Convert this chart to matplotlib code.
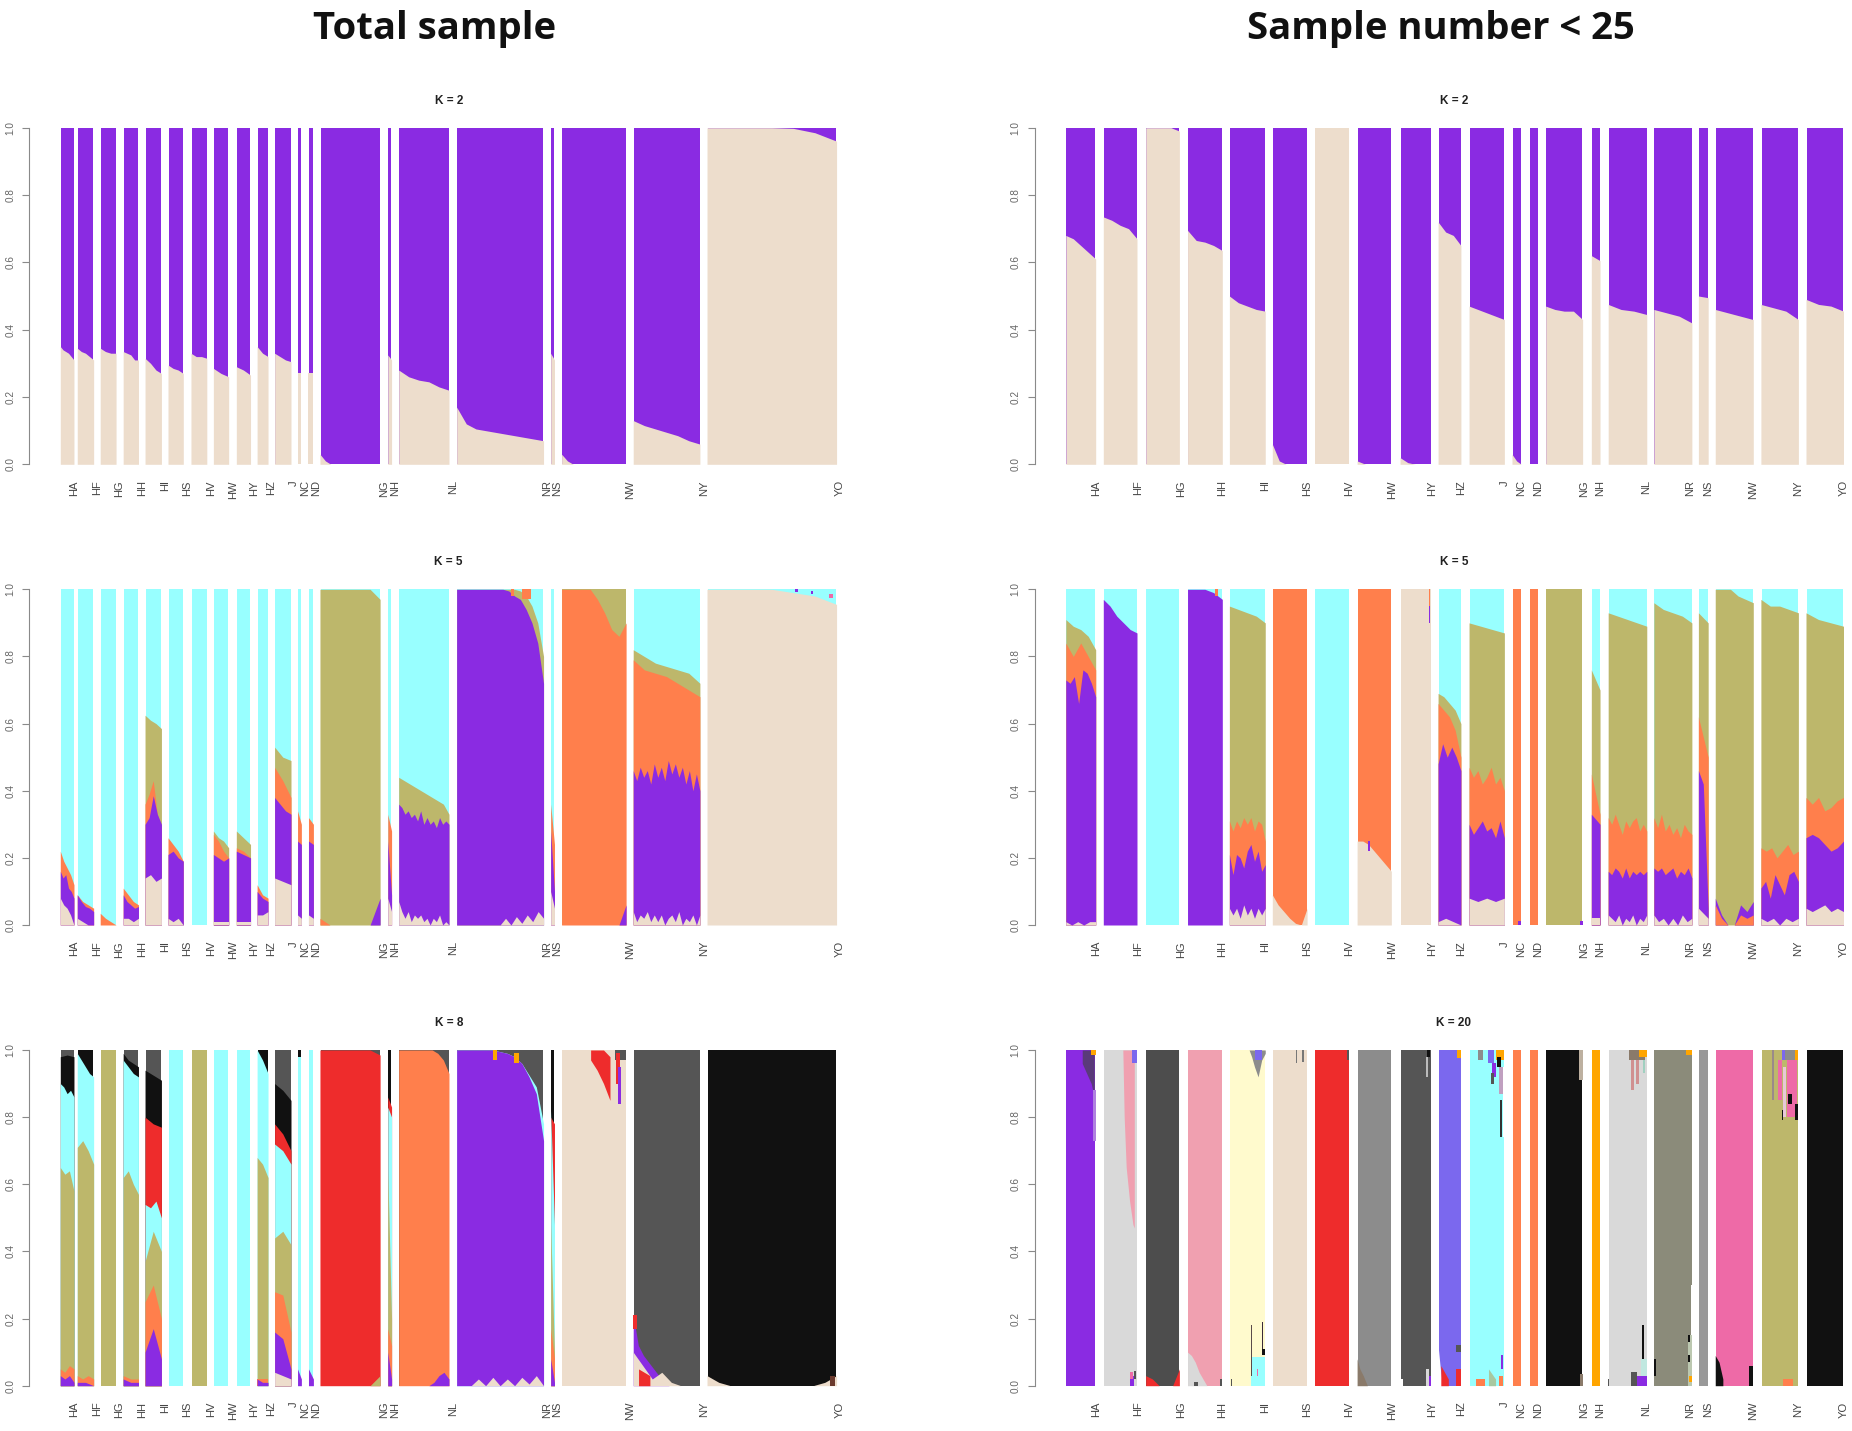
import numpy as np
import matplotlib
matplotlib.use("Agg")
import matplotlib.pyplot as plt

# cluster colours
PUR = '#8A2BE2'
BEI = '#EDDDCC'
CYA = '#98FFFF'
OLI = '#BDB76B'
COR = '#FF7F4C'
BLK = '#111111'
DGR = '#555555'
RED = '#EE2C2C'
LGR = '#D9D9D9'
PNK = '#F0A0B0'
LEM = '#FFFACD'
SLB = '#7B68EE'
IVO = '#8B8B7A'
GRY = '#8C8C8C'
MGR = '#999999'
HOT = '#EE6AA7'
ORA = '#FFA500'
CHA = '#4D4D4D'
WHT = '#FFFFFF'
BRN = '#8A7A6A'

pops_left = ['HA', 'HF', 'HG', 'HH', 'HI', 'HS', 'HV', 'HW', 'HY', 'HZ', 'J', 'NC', 'ND',
             'NG', 'NH', 'NL', 'NR', 'NS', 'NW', 'NY', 'YO']
pops_right = pops_left

# where each bar group starts, how wide it is, and where the labels sit
starts_left = [0, 31, 73, 115, 155, 197, 239, 280, 322, 360, 392, 434, 454, 475, 599, 619, 725, 897, 917, 1048, 1183]
sizes_left = [25, 30, 29, 28, 30, 28, 29, 28, 26, 20, 30, 7, 9, 110, 7, 92, 159, 7, 118, 122, 237]
labelx_left = [25, 67, 108, 150, 192, 232, 275, 317, 355, 385, 427, 448, 468, 593, 612, 718, 890, 908, 1042, 1177, 1425]
starts_right = [0, 69, 147, 224, 301, 380, 458, 536, 615, 685, 742, 821, 853, 883, 967, 998, 1082, 1164, 1195, 1279, 1362]
sizes_right = [55, 62, 62, 64, 66, 64, 64, 63, 57, 42, 65, 17, 16, 68, 16, 71, 70, 18, 70, 69, 69]
labelx_right = [56, 134, 212, 288, 366, 444, 522, 600, 674, 727, 807, 838, 869, 954, 984, 1067, 1149, 1181, 1264, 1347, 1431]

# K=2, top of the beige part in each group
k2_left_beige = [
    [.35, .34, .335, .33, .32, .31], [.345, .335, .33, .32, .31], [.345, .335, .33, .33],
    [.335, .33, .325, .31, .31], [.315, .30, .28, .27], [.295, .285, .28, .27],
    [.33, .32, .32, .315], [.285, .27, .26], [.29, .28, .265], [.35, .33, .32],
    [.33, .32, .31, .305], [.27, .27], [.27, .27],
    [.03, .01, 0, 0, 0, 0, 0, 0, 0, 0, 0, 0], [.325, .31], [.28, .26, .25, .245, .23, .22],
    [.17, .12, .105, .10, .095, .09, .085, .08, .075, .07], [.33, .31],
    [.03, .01, 0, 0, 0, 0, 0, 0, 0, 0, 0, 0], [.13, .115, .105, .095, .085, .07, .06],
    [1, 1, 1, 1, .998, .985, .96]]
k2_right_beige = [
    [.68, .67, .65, .63, .61], [.735, .725, .71, .70, .67], [1, 1, 1, 1, .99],
    [.695, .665, .66, .65, .635], [.50, .48, .47, .46, .455], [.06, .01, 0, 0, 0, 0], [1, 1],
    [.01, 0, 0, 0, 0], [.02, .005, 0, 0, 0], [.72, .69, .68, .65], [.47, .46, .45, .44, .43],
    [.03, .01, 0], [0, 0], [.47, .46, .455, .455, .43], [.62, .605], [.475, .46, .455, .445],
    [.46, .45, .44, .42], [.50, .495], [.46, .45, .44, .43], [.475, .465, .455, .43],
    [.49, .475, .47, .455]]

# K=5 and up: per group, layers from the top colour downwards
k5_left = [
    [(CYA, [1]), (COR, [.22, .19, .17, .15, .12]), (PUR, [.16, .14, .15, .11, .10, .08]), (BEI, [.08, .06, .05, .03, 0])],
    [(CYA, [1]), (COR, [.09, .07, .06, .05]), (PUR, [.09, .07, .055, .05, .04]), (BEI, [.02, .01, 0, 0])],
    [(CYA, [1]), (COR, [.035, .02, .01, 0])],
    [(CYA, [1]), (COR, [.11, .09, .07, .06]), (PUR, [.09, .07, .06, .05, .055]), (BEI, [.02, .02, .01, .02])],
    [(CYA, [1]), (OLI, [.625, .61, .60, .585]), (COR, [.36, .39, .43, .33, .29]), (PUR, [.30, .32, .385, .33, .30]), (BEI, [.14, .15, .13, .14])],
    [(CYA, [1]), (COR, [.26, .24, .22, .19]), (PUR, [.21, .22, .20, .19]), (BEI, [.02, .01, .02, 0])],
    [(CYA, [1])],
    [(CYA, [1]), (OLI, [.28, .26, .25, .23]), (COR, [.27, .25, .22, .20]), (PUR, [.21, .20, .19, .20]), (BEI, [.01, .01, .01])],
    [(CYA, [1]), (OLI, [.28, .26, .24]), (COR, [.23, .22, .20]), (PUR, [.22, .21, .20]), (BEI, [.01, .01, .01])],
    [(CYA, [1]), (COR, [.12, .09, .08]), (PUR, [.10, .08, .07]), (BEI, [.03, .03, .04])],
    [(CYA, [1]), (OLI, [.53, .50, .49]), (COR, [.47, .43, .38]), (PUR, [.38, .36, .34, .33]), (BEI, [.14, .13, .12])],
    [(CYA, [1]), (COR, [.34, .30]), (PUR, [.25, .24]), (BEI, [.03, .02])],
    [(CYA, [1]), (COR, [.32, .30]), (PUR, [.25, .24]), (BEI, [.03, .02])],
    [(CYA, [1]), (OLI, [1, 1, 1, 1, 1, 1, .97]), (PUR, [0, 0, 0, 0, 0, 0, .08]), (COR, [.02, 0, 0, 0, 0, 0, 0])],
    [(CYA, [1]), (COR, [.33, .28]), (PUR, [.25, .09]), (BEI, [.08, .04])],
    [(CYA, [1]), (OLI, [.44, .43, .42, .41, .40, .39, .38, .37, .36, .33]),
     (PUR, [.36, .35, .33, .34, .32, .33, .31, .34, .30, .32, .30, .31, .29, .32, .30, .31, .30]),
     (BEI, [.07, .04, .02, .04, .01, .03, .02, .03, .01, .02, 0, .02, .01, .03, 0, .01, 0])],
    [(CYA, [1]), (OLI, [1, 1, 1, 1, 1, 1, 1, 1, 1, 1, 1, .995, .98, .95, .90, .80]),
     (PUR, [1, 1, 1, 1, 1, 1, 1, 1, 1, .995, .98, .97, .94, .90, .84, .72]),
     (BEI, [0, 0, 0, 0, 0, 0, 0, 0, 0, .02, 0, .025, .005, .03, .01, .04, .02])],
    [(CYA, [1]), (COR, [.36, .24]), (PUR, [.28, .10]), (BEI, [.10, .05])],
    [(OLI, [1]), (COR, [1, 1, 1, 1, 1, .97, .93, .88, .86, .90]), (PUR, [0, 0, 0, 0, 0, 0, 0, 0, 0, .06])],
    [(CYA, [1]), (OLI, [.82, .80, .78, .77, .76, .75, .72]), (COR, [.79, .76, .75, .74, .72, .70, .68]),
     (PUR, [.46, .43, .47, .44, .46, .42, .48, .44, .47, .43, .49, .45, .48, .44, .47, .42, .46, .40, .45, .40]),
     (BEI, [.04, .01, .03, .02, .04, .01, .03, .01, .03, 0, .02, .03, .01, .04, 0, .02, .01, .03, 0, .03])],
    [(CYA, [1]), (BEI, [1, 1, 1, 1, .99, .98, .955])],
]
k5_right = [
    [(CYA, [1]), (OLI, [.91, .89, .88, .86, .82]), (COR, [.84, .80, .84, .80, .76]), (PUR, [.73, .72, .74, .66, .76, .75, .72, .68]), (BEI, [.01, 0, .01, 0, .01, .01])],
    [(CYA, [1]), (PUR, [.97, .95, .92, .90, .88, .87])],
    [(CYA, [1])],
    [(CYA, [1]), (PUR, [1, 1, 1, .99, .97])],
    [(CYA, [1]), (OLI, [.95, .94, .93, .92, .90]), (COR, [.31, .28, .31, .29, .32, .30, .32, .28, .31, .30, .25]),
     (PUR, [.21, .15, .21, .20, .17, .22, .24, .19, .22, .16, .18]), (BEI, [.05, .03, .05, .02, .06, .03, .05, .02, .05, .03, .05])],
    [(COR, [1]), (BEI, [.09, .06, .04, .02, .005, 0, .05])],
    [(CYA, [1])],
    [(COR, [1]), (BEI, [.25, .25, .24, .22, .20, .18, .16])],
    [(BEI, [1])],
    [(CYA, [1]), (OLI, [.69, .68, .66, .64, .60]), (COR, [.66, .64, .62, .58, .50]), (PUR, [.48, .54, .50, .53, .50, .46]), (BEI, [.01, .02, .01, 0])],
    [(CYA, [1]), (OLI, [.90, .89, .88, .87]), (COR, [.47, .44, .46, .42, .44, .47, .42, .44, .40]),
     (PUR, [.30, .27, .29, .31, .28, .29, .26, .31, .26]), (BEI, [.08, .07, .08, .07, .08])],
    [(COR, [1])],
    [(COR, [1])],
    [(OLI, [1])],
    [(CYA, [1]), (OLI, [.76, .70]), (COR, [.45, .33]), (PUR, [.33, .30]), (BEI, [.02, .02])],
    [(CYA, [1]), (OLI, [.93, .92, .91, .90, .89]), (COR, [.32, .30, .33, .30, .27, .31, .29, .31, .32, .28, .30, .28]),
     (PUR, [.16, .15, .17, .16, .14, .17, .14, .16, .15, .16, .15, .16]),
     (BEI, [.03, .02, .01, .03, 0, .02, .01, .03, 0, .02, .01, .03])],
    [(CYA, [1]), (OLI, [.96, .94, .93, .92, .90]), (COR, [.32, .29, .33, .28, .30, .27, .29, .26, .30, .28, .27]),
     (PUR, [.17, .16, .17, .15, .16, .17, .14, .16, .15, .17, .14]), (BEI, [.03, .01, .02, 0, .02, 0, .03, .01, .02])],
    [(CYA, [1]), (OLI, [.93, .90]), (COR, [.62, .50]), (PUR, [.46, .42, .05]), (BEI, [.05, .02])],
    [(CYA, [1]), (OLI, [1, 1, 1, .98, .97, .96]), (PUR, [.08, .03, 0, 0, .06, .04, .07]), (COR, [.06, .02, 0, 0, .03, .02, .03])],
    [(CYA, [1]), (OLI, [.97, .95, .95, .94, .93]), (COR, [.23, .22, .23, .20, .22, .24, .21, .22]),
     (PUR, [.11, .13, .08, .15, .12, .09, .15, .16, .13]), (BEI, [.02, .01, .02, 0, .02, .01, .02])],
    [(CYA, [1]), (OLI, [.93, .91, .90, .89]), (COR, [.38, .36, .38, .34, .35, .37, .38]),
     (PUR, [.26, .27, .26, .24, .22, .23, .25]), (BEI, [.05, .04, .05, .06, .04, .05, .04])],
]
k8_left = [
    [(DGR, [1]), (BLK, [.98, .985, .98]), (CYA, [.90, .89, .87, .88, .86]), (OLI, [.65, .63, .64, .58]), (COR, [.05, .04, .06, .05]), (PUR, [.03, .02, .03, .01])],
    [(BLK, [1]), (CYA, [.99, .97, .95, .93, .92]), (OLI, [.71, .73, .70, .66]), (COR, [.03, .02, .03, .02]), (PUR, [.01, .01, 0])],
    [(OLI, [1])],
    [(DGR, [1]), (BLK, [.99, .97, .96, .95]), (CYA, [.97, .95, .93, .92]), (OLI, [.62, .64, .60, .57]), (COR, [.03, .02, .02]), (PUR, [.02, .01, .01])],
    [(DGR, [1]), (BLK, [.94, .93, .92, .91]), (RED, [.80, .78, .77]), (CYA, [.54, .53, .55, .50]), (OLI, [.37, .46, .40]), (COR, [.25, .30, .20]), (PUR, [.10, .17, .08])],
    [(CYA, [1])],
    [(OLI, [1])],
    [(CYA, [1])],
    [(CYA, [1])],
    [(BLK, [1]), (CYA, [1, .97, .93]), (OLI, [.68, .66, .62]), (COR, [.02, .02, .02]), (PUR, [.02, .01, .01])],
    [(DGR, [1]), (BLK, [.90, .88, .85]), (RED, [.78, .75, .70]), (CYA, [.72, .70, .66]), (OLI, [.44, .46, .42]), (COR, [.28, .27, .16]), (PUR, [.16, .14, .05]), (BEI, [.04, .03, .02])],
    [(BLK, [1]), (CYA, [.98, .98]), (PUR, [.05, .02])],
    [(CYA, [1]), (PUR, [.05, .02])],
    [(DGR, [1]), (RED, [1, 1, 1, 1, 1, 1, .985]), (OLI, [0, 0, 0, 0, 0, 0, .03])],
    [(BLK, [1]), (RED, [.86, .83]), (CYA, [.83, .80]), (OLI, [.64, .20]), (COR, [.17, .12]), (PUR, [.10, .02])],
    [(DGR, [1]), (COR, [1, 1, 1, 1, 1, 1, 1, .99, .97, .93]), (PUR, [0, 0, 0, 0, 0, 0, 0, .01, .03, .04, .02])],
    [(DGR, [1]), (CYA, [1, 1, 1, 1, 1, 1, .995, .99, .98, .96, .925, .89, .78]),
     (PUR, [1, 1, 1, 1, 1, 1, .995, .99, .98, .96, .92, .87, .73]),
     (BEI, [0, 0, 0, .02, 0, .025, 0, .02, 0, .025, .005, .03, 0])],
    [(BLK, [1]), (RED, [.80, .78]), (CYA, [.82, .48]), (OLI, [.48, .10]), (COR, [.17, .08]), (PUR, [.08, .01])],
    [(BEI, [1])],
    [(DGR, [1]), (PUR, [.21, .12, .09, .07, .05, .03, .01, 0, 0, 0, 0, 0, 0, 0]), (BEI, [.10, .06, .02, .04, .01, 0, 0, 0])],
    [(BLK, [1]), (BEI, [.03, .01, 0, 0, 0, 0, 0, 0, 0, 0, .01, .03])],
]
k20_right = [
    [(PUR, [1])], [(LGR, [1])], [(CHA, [1]), (RED, [.03, .02, 0, 0, 0, .05])],
    [(PNK, [1]), (LGR, [.10, .09, .07, .04, .02, 0, 0, 0, 0, 0])], [(LEM, [1])], [(BEI, [1])],
    [(RED, [1])], [(GRY, [1])], [(DGR, [1])], [(SLB, [1])], [(CYA, [1])], [(COR, [1])], [(COR, [1])],
    [(BLK, [1])], [(ORA, [1])], [(LGR, [1])], [(IVO, [1])], [(MGR, [1])], [(HOT, [1])], [(OLI, [1])], [(BLK, [1])],
]

# small bits on top of the stacks: group, x fractions, lower edge, upper edge, colour
k5_left_bits = [
    (16, (.62, .66), (.98, .98), (1, 1), COR), (16, (.75, .85), (.97, .97), (1, 1), COR),
    (20, (.68, .70), (.992, .992), (1, 1), PUR), (20, (.80, .82), (.985, .985), (.995, .995), PUR),
    (20, (.94, .97), (.975, .975), (.985, .985), HOT),
]
k5_right_bits = [
    (3, (.78, .88), (.98, .98), (1, 1), COR), (7, (.32, .38), (.22, .22), (.25, .25), PUR),
    (8, (.93, .97), (.90, .90), (.95, .95), PUR), (8, (.93, .98), (.95, .95), (1, 1), COR),
    (11, (.7, 1), (0, 0), (.012, .012), PUR), (13, (.92, 1), (0, 0), (.012, .012), PUR),
]
k8_left_bits = [
    (18, (.45, .55, .65, .75), (.97, .94, .90, .85), (1, 1, 1, .98), RED),
    (18, (.83, 1), (.97, .97), (1, 1), DGR), (18, (.84, .9), (.90, .90), (.99, .99), RED),
    (18, (.88, .92), (.84, .84), (.95, .95), PUR),
    (19, (.0, .05), (.17, .17), (.21, .21), RED), (19, (.08, .25), (.0, .0), (.05, .03), RED),
    (16, (.42, .46), (.97, .97), (1, 1), ORA), (16, (.66, .72), (.96, .96), (.99, .99), ORA),
    (20, (.95, .99), (.0, .0), (.03, .03), '#6B3A2E'),
]
k20_right_bits = [
    (0, (.55, .7, .85, .95), (.96, .93, .90, .86), (1, 1, 1, 1), '#5A3A7A'),
    (0, (.85, 1), (.985, .985), (1, 1), ORA), (0, (.9, 1), (.73, .73), (.88, .88), '#B080E0'),
    (1, (.58, .62, .68, .78, .88, .92), (1, .80, .65, .55, .48, .47), (1, 1, 1, 1, 1, 1), PNK),
    (1, (.85, 1), (.96, .96), (1, 1), SLB), (1, (.78, .92), (0, 0), (.03, .03), PUR),
    (1, (.8, .88), (.02, .02), (.04, .04), HOT), (1, (.9, .96), (.02, .02), (.045, .045), DGR),
    (3, (.2, .3), (0, 0), (.012, .012), DGR), (3, (.92, 1), (0, 0), (.02, .02), DGR),
    (4, (.55, .62, .7, .8, .9, 1), (1, .98, .95, .92, .97, .99), (1, 1, 1, 1, 1, 1), GRY),
    (4, (.72, .9), (.97, .97), (1, 1), SLB),
    (4, (.6, 1), (0, 0), (.085, .085), CYA), (4, (.6, .64), (.03, .03), (.18, .18), '#5A4A4A'),
    (4, (.9, .95), (.10, .10), (.19, .19), '#3A2A3A'), (4, (.92, .98), (.09, .09), (.11, .11), BLK),
    (4, (.76, .8), (.03, .03), (.05, .05), HOT), (4, (.05, .08), (0, 0), (.02, .02), DGR),
    (5, (.67, .72), (.96, .96), (1, 1), '#777777'), (5, (.85, .9), (.965, .965), (1, 1), '#777777'),
    (6, (.93, 1), (.97, .97), (1, 1), DGR),
    (7, (0, .08, .18, .3), (0, 0, 0, 0), (.08, .05, .03, 0), BRN),
    (8, (.87, .97), (.98, .98), (1, 1), BLK), (8, (.85, .9), (.92, .92), (.98, .98), '#BBBBBB'),
    (8, (.85, .92), (0, 0), (.05, .05), LGR), (8, (.92, 1), (0, 0), (.03, .03), PUR),
    (8, (0, .08), (0, 0), (.02, .02), WHT),
    (9, (0, .1, .2), (0, 0, 0), (.12, .05, 0), WHT), (9, (.12, .45), (0, 0), (.06, .02), RED),
    (9, (.8, 1), (0, 0), (.05, .05), RED), (9, (.8, 1), (.10, .10), (.12, .12), DGR),
    (9, (.85, 1), (.975, .975), (1, 1), ORA),
    (10, (.25, .4), (.97, .97), (1, 1), GRY), (10, (.55, .7), (.96, .96), (1, 1), SLB),
    (10, (.75, 1), (.97, .97), (1, 1), ORA), (10, (.8, .9), (.95, .95), (.98, .98), BLK),
    (10, (.65, .75), (.92, .92), (.96, .96), PUR), (10, (.62, .72), (.90, .90), (.93, .93), DGR),
    (10, (.85, .95), (.87, .87), (.95, .95), '#C0A0C0'), (10, (.88, .93), (.74, .74), (.85, .85), '#333333'),
    (10, (.95, 1), (.74, .74), (.95, .95), WHT), (10, (.2, .45), (0, 0), (.02, .02), COR),
    (10, (.55, .75), (0, 0), (.05, .02), '#A8C8A0'), (10, (.85, .95), (0, 0), (.03, .03), COR),
    (10, (.9, .97), (.05, .05), (.09, .09), PUR),
    (13, (.9, 1), (.91, .91), (1, 1), '#BDB0A0'), (13, (.92, 1), (0, 0), (.035, .035), BRN),
    (15, (.55, .95), (.97, .97), (1, 1), BRN), (15, (.8, 1), (.98, .98), (1, 1), ORA),
    (15, (.6, .68), (.88, .88), (.97, .97), '#D09090'), (15, (.72, .8), (.90, .90), (.97, .97), '#D09090'),
    (15, (.9, .96), (.93, .93), (.97, .97), '#A0D0C0'),
    (15, (.88, .92), (.08, .08), (.18, .18), BLK), (15, (.6, .75), (0, 0), (.04, .04), DGR),
    (15, (.75, 1), (0, 0), (.03, .03), PUR), (15, (.85, 1), (.03, .03), (.08, .08), '#C0E8E0'),
    (15, (0, .03), (0, 0), (.02, .02), DGR),
    (16, (.85, 1), (.985, .985), (1, 1), ORA), (16, (0, .05), (.03, .03), (.08, .08), BLK),
    (16, (.9, 1), (0, 0), (.15, .15), '#BCC8B0'), (16, (.9, .95), (.07, .07), (.09, .09), BLK),
    (16, (.9, .95), (.13, .13), (.15, .15), BLK), (16, (.92, 1), (.01, .01), (.03, .03), ORA),
    (16, (.97, 1), (.15, .15), (.30, .30), WHT),
    (18, (0, .1, .2), (0, 0, 0), (.09, .07, .02), BLK), (18, (.9, 1), (0, 0), (.06, .06), BLK),
    (19, (.3, .36), (.85, .85), (1, 1), '#9A8A8A'), (19, (.45, .55), (.85, .85), (.97, .97), HOT),
    (19, (.7, .95), (.80, .80), (.97, .97), HOT), (19, (.6, .68), (.80, .80), (.95, .95), '#E8C8D8'),
    (19, (.72, .82), (.84, .84), (.87, .87), BLK), (19, (.55, .58), (.79, .79), (.82, .82), BLK),
    (19, (.92, .98), (.79, .79), (.84, .84), BLK), (19, (.55, .65), (.97, .97), (1, 1), SLB),
    (19, (.65, .9), (.97, .97), (1, 1), GRY), (19, (.9, 1), (.97, .97), (1, 1), ORA),
    (19, (.6, .85), (0, 0), (.02, .02), COR),
]


def add_panel(rect, starts, sizes, stacks, bits, labels, labelx, title, title_x):
    ax = fig.add_axes([rect[0] / W, 1 - rect[3] / H, (rect[2] - rect[0]) / W, (rect[3] - rect[1]) / H])
    for start, size, stack in zip(starts, sizes, stacks):
        for n, (color, vals) in enumerate(stack):
            vals = vals * 2 if len(vals) == 1 else vals
            # lower layers a touch wider so the top colour does not peek out at the edge
            inset = 0 if n else 1.2
            x = np.linspace(start + inset, start + size - inset / 3, len(vals))
            ax.fill_between(x, 0, vals, color=color, linewidth=0, antialiased=False)
    for idx, fracs, low, high, color in bits:
        x = starts[idx] + np.array(fracs) * sizes[idx]
        ax.fill_between(x, low, high, color=color, linewidth=0, antialiased=False)
    ax.set_xlim(0, starts[-1] + sizes[-1])
    ax.set_ylim(0, 1)
    for side in ['top', 'right', 'bottom']:
        ax.spines[side].set_visible(False)
    ax.spines['left'].set_position(('outward', 22.5))
    ax.spines['left'].set_color('#8A8A8A')
    ax.set_yticks([0, .2, .4, .6, .8, 1.0])
    ax.set_yticklabels(['0.0', '0.2', '0.4', '0.6', '0.8', '1.0'], rotation=90, va='center',
                       fontsize=7.2, color='#666666', family='Liberation Sans')
    ax.tick_params(axis='y', length=5, color='#8A8A8A', pad=5)
    ax.set_xticks(labelx)
    ax.set_xticklabels(labels, rotation=90, va='top', ha='center', fontsize=8,
                       color='#444444', family='Liberation Sans')
    ax.tick_params(axis='x', length=0, pad=11.5)
    fig.text(title_x / W, 1 - (rect[1] - 27) / H, title, ha='center', va='center',
             fontsize=8.5, fontweight='bold', family='Liberation Sans', color='#222222')
    return ax


W, H = 1852, 1431
fig = plt.figure(figsize=(W / 100, H / 100), dpi=100)

fig.text(434.6 / W, 1 - 29 / H, 'Total sample', ha='center', va='center', fontsize=27.5,
         fontweight='bold', family='Open Sans', color='#111111')
fig.text(1441 / W, 1 - 29 / H, 'Sample number < 25', ha='center', va='center', fontsize=27.5,
         fontweight='bold', family='Open Sans', color='#111111')

k2_left = [[(PUR, [1]), (BEI, v)] for v in k2_left_beige]
k2_right = [[(PUR, [1]), (BEI, v)] for v in k2_right_beige]

L = (60.3, 839.3)
R = (1065.8, 1843.5)
rows = [(127.7, 464.3), (589.3, 925), (1050, 1385.7)]
add_panel((L[0], rows[0][0], L[1], rows[0][1]), starts_left, sizes_left, k2_left, [], pops_left, labelx_left, 'K = 2', 448.7)
add_panel((L[0], rows[1][0], L[1], rows[1][1]), starts_left, sizes_left, k5_left, k5_left_bits, pops_left, labelx_left, 'K = 5', 448.7)
add_panel((L[0], rows[2][0], L[1], rows[2][1]), starts_left, sizes_left, k8_left, k8_left_bits, pops_left, labelx_left, 'K = 8', 448.7)
add_panel((R[0], rows[0][0], R[1], rows[0][1]), starts_right, sizes_right, k2_right, [], pops_right, labelx_right, 'K = 2', 1454)
add_panel((R[0], rows[1][0], R[1], rows[1][1]), starts_right, sizes_right, k5_right, k5_right_bits, pops_right, labelx_right, 'K = 5', 1454)
add_panel((R[0], rows[2][0], R[1], rows[2][1]), starts_right, sizes_right, k20_right, k20_right_bits, pops_right, labelx_right, 'K = 20', 1454)

fig.savefig('out.png', dpi=100)
